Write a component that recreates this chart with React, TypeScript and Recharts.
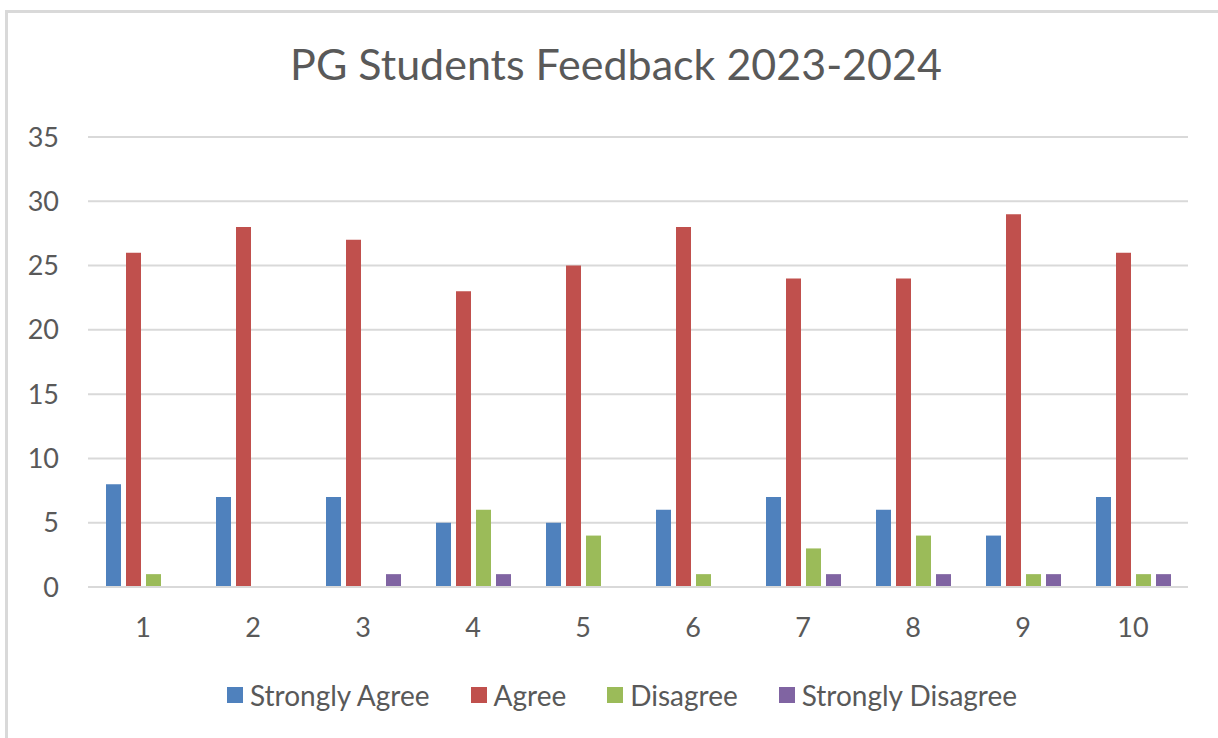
import { BarChart, Bar, XAxis, YAxis, CartesianGrid, Legend } from "recharts";

const questions = ["1", "2", "3", "4", "5", "6", "7", "8", "9", "10"];
const stronglyAgree = [8, 7, 7, 5, 5, 6, 7, 6, 4, 7];
const agree = [26, 28, 27, 23, 25, 28, 24, 24, 29, 26];
const disagree = [1, 0, 0, 6, 4, 1, 3, 4, 1, 1];
const stronglyDisagree = [0, 0, 1, 1, 0, 0, 1, 1, 1, 1];
const yTicks = [0, 5, 10, 15, 20, 25, 30, 35];

const SERIES = [
  { key: "sa", name: "Strongly Agree", color: "#4F81BD" },
  { key: "a", name: "Agree", color: "#C0504D" },
  { key: "d", name: "Disagree", color: "#9BBB59" },
  { key: "sd", name: "Strongly Disagree", color: "#8064A2" },
];

const FONT = "Lato, 'Open Sans', sans-serif";
const TEXT = "#595959";

const rows = questions.map((q, i) => ({
  q,
  sa: stronglyAgree[i],
  a: agree[i],
  d: disagree[i],
  sd: stronglyDisagree[i],
}));

function LegendRow() {
  return (
    <div
      style={{
        display: "flex",
        justifyContent: "center",
        alignItems: "center",
        gap: 41,
        height: 40,
        fontFamily: FONT,
        fontSize: 28,
        color: TEXT,
      }}
    >
      {SERIES.map((s) => (
        <div key={s.key} style={{ display: "flex", alignItems: "center", gap: 7 }}>
          <span style={{ width: 16, height: 16, background: s.color, display: "inline-block" }} />
          <span>{s.name}</span>
        </div>
      ))}
    </div>
  );
}

export default function App() {
  return (
    <div
      style={{
        position: "absolute",
        left: 0,
        top: 0,
        width: 1218,
        height: 738,
        overflow: "hidden",
        background: "#fff",
      }}
    >
      <div
        style={{
          position: "absolute",
          left: 5,
          top: 10,
          width: 1300,
          height: 800,
          border: "3px solid #d9d9d9",
        }}
      />
      <div
        style={{
          position: "absolute",
          left: 0,
          top: 40,
          width: 1232,
          textAlign: "center",
          fontFamily: FONT,
          fontSize: 43,
          lineHeight: "48px",
          color: TEXT,
        }}
      >
        PG Students Feedback 2023-2024
      </div>
      <div style={{ position: "absolute", left: 0, top: 0 }}>
        <BarChart
          width={1218}
          height={738}
          data={rows}
          margin={{ top: 137, right: 30, bottom: 51, left: 0 }}
          barSize={15}
          barGap={5}
        >
          <CartesianGrid vertical={false} stroke="#d9d9d9" strokeWidth={2} />
          <XAxis
            dataKey="q"
            height={60}
            tickLine={false}
            tickSize={0}
            tickMargin={31}
            axisLine={{ stroke: "#d9d9d9", strokeWidth: 2 }}
            tick={{ fill: TEXT, fontSize: 27, fontFamily: FONT }}
          />
          <YAxis
            width={88}
            domain={[0, 35]}
            ticks={yTicks}
            axisLine={false}
            tickLine={false}
            tickSize={0}
            tickMargin={29}
            tick={{ fill: TEXT, fontSize: 27, fontFamily: FONT }}
          />
          <Legend
            verticalAlign="bottom"
            content={() => <LegendRow />}
            wrapperStyle={{ left: 0, width: 1244, top: 675, height: 40 }}
          />
          {SERIES.map((s) => (
            <Bar key={s.key} dataKey={s.key} name={s.name} fill={s.color} isAnimationActive={false} />
          ))}
        </BarChart>
      </div>
    </div>
  );
}
